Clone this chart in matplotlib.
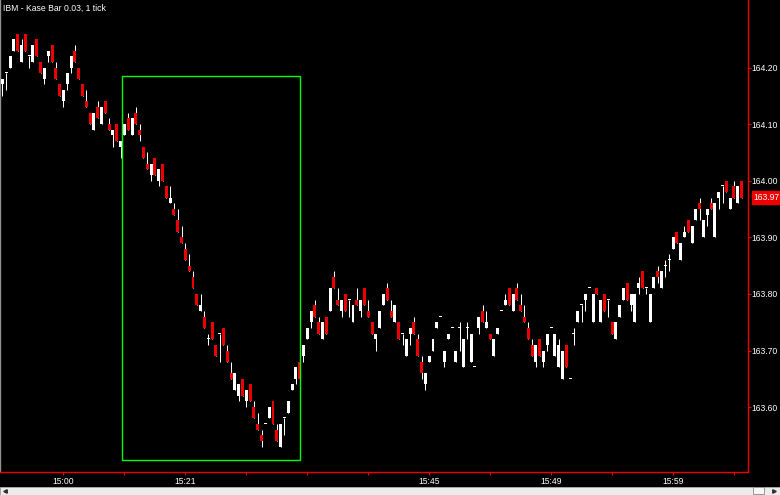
import matplotlib
matplotlib.use("Agg")
import matplotlib.pyplot as plt
import numpy as np
from matplotlib.patches import Rectangle
from matplotlib.lines import Line2D

# kase bar prices, one entry per bar (left to right)
opens = [
    164.17, 164.19, 164.20, 164.23, 164.26, 164.21, 164.26, 164.22, 164.21, 164.25,
    164.21, 164.18, 164.22, 164.24, 164.20, 164.17, 164.14, 164.17, 164.20, 164.23,
    164.20, 164.17, 164.14, 164.12, 164.09, 164.13, 164.10, 164.14, 164.10, 164.08,
    164.10, 164.06, 164.08, 164.11, 164.08, 164.12, 164.09, 164.06, 164.03, 164.01,
    164.04, 164.00, 164.03, 163.99, 163.96, 163.95, 163.93, 163.90, 163.88, 163.85,
    163.83, 163.80, 163.77, 163.76, 163.72, 163.75, 163.71, 163.73, 163.74, 163.70,
    163.66, 163.63, 163.62, 163.65, 163.61, 163.64, 163.60, 163.57, 163.55, 163.57,
    163.58, 163.61, 163.56, 163.53, 163.58, 163.59, 163.63, 163.65, 163.68, 163.69,
    163.72, 163.75, 163.78, 163.75, 163.72, 163.76, 163.77, 163.83, 163.79, 163.77,
    163.80, 163.79, 163.75, 163.79, 163.77, 163.81, 163.77, 163.75, 163.72, 163.74,
    163.78, 163.81, 163.77, 163.75, 163.75, 163.73, 163.69, 163.73, 163.75, 163.72,
    163.68, 163.64, 163.68, 163.70, 163.74, 163.76, 163.68, 163.72, 163.74, 163.68,
    163.74, 163.67, 163.74, 163.68, 163.67, 163.74, 163.77, 163.74, 163.73, 163.69,
    163.73, 163.77, 163.78, 163.81, 163.77, 163.81, 163.78, 163.76, 163.74, 163.71,
    163.68, 163.72, 163.68, 163.71, 163.74, 163.69, 163.67, 163.65, 163.71, 163.65,
    163.73, 163.75, 163.78, 163.79, 163.81, 163.75, 163.81, 163.75, 163.80, 163.79,
    163.75, 163.72, 163.76, 163.79, 163.82, 163.78, 163.75, 163.81, 163.84, 163.81,
    163.75, 163.81, 163.84, 163.81, 163.85, 163.86, 163.88, 163.91, 163.86, 163.90,
    163.93, 163.89, 163.93, 163.96, 163.90, 163.94, 163.96, 163.90, 163.97, 163.99,
    164.00, 163.95, 163.99, 163.96, 164.00,
]
highs = [
    164.18, 164.19, 164.22, 164.25, 164.26, 164.25, 164.26, 164.22, 164.24, 164.25,
    164.21, 164.20, 164.23, 164.24, 164.21, 164.17, 164.16, 164.19, 164.22, 164.24,
    164.20, 164.17, 164.16, 164.12, 164.12, 164.14, 164.13, 164.14, 164.11, 164.09,
    164.10, 164.07, 164.10, 164.12, 164.11, 164.13, 164.10, 164.06, 164.05, 164.03,
    164.04, 164.02, 164.03, 163.99, 163.99, 163.96, 163.95, 163.92, 163.89, 163.87,
    163.84, 163.80, 163.80, 163.77, 163.73, 163.75, 163.71, 163.73, 163.74, 163.71,
    163.68, 163.66, 163.64, 163.65, 163.63, 163.64, 163.61, 163.59, 163.56, 163.57,
    163.60, 163.61, 163.57, 163.57, 163.58, 163.61, 163.64, 163.67, 163.68, 163.71,
    163.74, 163.77, 163.79, 163.76, 163.75, 163.76, 163.81, 163.84, 163.81, 163.79,
    163.80, 163.79, 163.78, 163.81, 163.79, 163.81, 163.79, 163.75, 163.73, 163.77,
    163.80, 163.82, 163.79, 163.78, 163.75, 163.73, 163.72, 163.74, 163.76, 163.73,
    163.69, 163.66, 163.69, 163.72, 163.75, 163.76, 163.70, 163.73, 163.74, 163.70,
    163.75, 163.72, 163.75, 163.73, 163.67, 163.76, 163.78, 163.77, 163.73, 163.72,
    163.74, 163.77, 163.80, 163.81, 163.80, 163.82, 163.80, 163.78, 163.75, 163.72,
    163.71, 163.72, 163.70, 163.73, 163.74, 163.73, 163.72, 163.70, 163.71, 163.65,
    163.74, 163.77, 163.78, 163.80, 163.81, 163.80, 163.81, 163.79, 163.80, 163.79,
    163.75, 163.75, 163.78, 163.81, 163.82, 163.80, 163.80, 163.83, 163.84, 163.81,
    163.80, 163.83, 163.85, 163.84, 163.86, 163.87, 163.90, 163.91, 163.89, 163.92,
    163.93, 163.92, 163.95, 163.97, 163.93, 163.95, 163.97, 163.96, 163.98, 163.99,
    164.00, 163.97, 164.00, 163.99, 164.00,
]
lows = [
    164.15, 164.16, 164.20, 164.23, 164.23, 164.21, 164.23, 164.20, 164.21, 164.22,
    164.19, 164.17, 164.21, 164.21, 164.18, 164.15, 164.13, 164.16, 164.19, 164.21,
    164.18, 164.15, 164.13, 164.10, 164.09, 164.11, 164.10, 164.12, 164.09, 164.06,
    164.07, 164.04, 164.08, 164.09, 164.08, 164.10, 164.07, 164.04, 164.02, 164.00,
    164.01, 163.99, 164.00, 163.97, 163.96, 163.94, 163.91, 163.89, 163.86, 163.84,
    163.81, 163.78, 163.77, 163.74, 163.71, 163.72, 163.69, 163.68, 163.71, 163.68,
    163.65, 163.63, 163.61, 163.62, 163.60, 163.61, 163.58, 163.56, 163.53, 163.57,
    163.58, 163.57, 163.54, 163.53, 163.55, 163.59, 163.63, 163.64, 163.65, 163.68,
    163.72, 163.74, 163.76, 163.73, 163.72, 163.73, 163.77, 163.81, 163.78, 163.76,
    163.77, 163.76, 163.75, 163.78, 163.76, 163.78, 163.76, 163.73, 163.70, 163.74,
    163.78, 163.79, 163.76, 163.75, 163.72, 163.71, 163.69, 163.71, 163.73, 163.69,
    163.65, 163.63, 163.68, 163.70, 163.74, 163.76, 163.67, 163.72, 163.74, 163.68,
    163.70, 163.67, 163.72, 163.68, 163.67, 163.73, 163.75, 163.74, 163.72, 163.69,
    163.73, 163.77, 163.78, 163.78, 163.77, 163.79, 163.77, 163.75, 163.72, 163.69,
    163.67, 163.69, 163.67, 163.70, 163.74, 163.69, 163.67, 163.65, 163.67, 163.65,
    163.71, 163.75, 163.75, 163.77, 163.81, 163.75, 163.80, 163.75, 163.77, 163.76,
    163.73, 163.72, 163.76, 163.79, 163.79, 163.77, 163.75, 163.80, 163.81, 163.80,
    163.75, 163.81, 163.82, 163.81, 163.83, 163.84, 163.88, 163.89, 163.86, 163.90,
    163.91, 163.89, 163.93, 163.93, 163.90, 163.92, 163.95, 163.90, 163.95, 163.96,
    163.98, 163.95, 163.97, 163.96, 163.97,
]
closes = [
    164.18, 164.19, 164.22, 164.25, 164.23, 164.24, 164.23, 164.22, 164.24, 164.22,
    164.19, 164.20, 164.23, 164.21, 164.18, 164.15, 164.16, 164.19, 164.22, 164.21,
    164.18, 164.15, 164.13, 164.10, 164.12, 164.11, 164.13, 164.12, 164.09, 164.09,
    164.07, 164.07, 164.10, 164.09, 164.11, 164.10, 164.08, 164.04, 164.02, 164.03,
    164.01, 164.02, 164.00, 163.97, 163.97, 163.94, 163.91, 163.89, 163.86, 163.84,
    163.81, 163.78, 163.78, 163.74, 163.72, 163.72, 163.69, 163.73, 163.71, 163.68,
    163.65, 163.66, 163.64, 163.62, 163.63, 163.61, 163.58, 163.56, 163.54, 163.57,
    163.60, 163.57, 163.54, 163.57, 163.58, 163.61, 163.64, 163.67, 163.65, 163.71,
    163.74, 163.77, 163.76, 163.73, 163.75, 163.73, 163.81, 163.81, 163.78, 163.79,
    163.77, 163.79, 163.78, 163.78, 163.79, 163.78, 163.76, 163.73, 163.73, 163.77,
    163.80, 163.79, 163.76, 163.78, 163.72, 163.73, 163.72, 163.74, 163.73, 163.69,
    163.66, 163.66, 163.69, 163.72, 163.75, 163.76, 163.70, 163.73, 163.74, 163.70,
    163.74, 163.72, 163.74, 163.73, 163.67, 163.76, 163.75, 163.75, 163.72, 163.72,
    163.74, 163.77, 163.79, 163.78, 163.80, 163.79, 163.77, 163.75, 163.72, 163.69,
    163.71, 163.69, 163.70, 163.73, 163.74, 163.73, 163.71, 163.70, 163.67, 163.65,
    163.73, 163.77, 163.78, 163.80, 163.81, 163.80, 163.80, 163.79, 163.77, 163.79,
    163.73, 163.75, 163.78, 163.81, 163.79, 163.80, 163.80, 163.82, 163.81, 163.81,
    163.80, 163.83, 163.83, 163.84, 163.85, 163.86, 163.90, 163.89, 163.89, 163.91,
    163.91, 163.92, 163.95, 163.95, 163.93, 163.95, 163.95, 163.96, 163.98, 163.99,
    163.98, 163.97, 163.97, 163.99, 163.97,
]

# time axis: tick every 16 bars, only some of them labelled
tick_bars = [16, 32, 48, 64, 80, 96, 112, 128, 144, 160, 176, 192]
tick_labels = ["15:00", "", "15:21", "", "", "", "15:45", "", "15:49", "", "15:59", ""]
price_ticks = [163.60, 163.70, 163.80, 163.90, 164.00, 164.10, 164.20]
last_price = 163.97
title = "IBM - Kase Bar 0.03, 1 tick"

# highlighted region (green box)
box_x = (31.4, 78.1)
box_y = (163.507, 164.185)

RED = "#ee0000"

plt.rcParams["font.family"] = ["Liberation Sans", "DejaVu Sans"]

fig = plt.figure(figsize=(7.8, 4.95), dpi=100, facecolor="black")
ax = fig.add_axes([0, 22.7 / 495, 747.7 / 780, 472.3 / 495])
ax.set_facecolor("black")

x = np.arange(len(opens))
o = np.array(opens)
c = np.array(closes)
down = c < o
colors = np.where(down, RED, "white")

# wicks
ax.vlines(x, lows, highs, colors="white", linewidth=0.72, zorder=2)

# bodies (dojis get a 1 px dash)
bottoms = np.minimum(o, c)
heights = np.maximum(np.abs(c - o), 0.0018)
ax.bar(x, heights, bottom=bottoms, width=0.78, color=colors, linewidth=0, zorder=3)

# green highlight box
ax.add_patch(Rectangle((box_x[0], box_y[0]), box_x[1] - box_x[0], box_y[1] - box_y[0],
                       fill=False, edgecolor="#00ff00", linewidth=1.0, zorder=4))

ax.set_xlim(-0.656, 195.6)
ax.set_ylim(163.4848, 164.3193)

# axes look
ax.spines["top"].set_visible(False)
ax.spines["left"].set_color("#909090")
ax.spines["left"].set_linewidth(1.0)
ax.spines["right"].set_color(RED)
ax.spines["bottom"].set_color(RED)
ax.spines["right"].set_linewidth(1.0)
ax.spines["bottom"].set_linewidth(1.0)

ax.yaxis.tick_right()
ax.set_yticks(price_ticks)
ax.set_yticklabels([f"{p:.2f}" for p in price_ticks])
ax.tick_params(axis="y", colors=RED, labelcolor="white", labelsize=6.2,
               length=2, width=0.8, pad=1)

ax.set_xticks(tick_bars)
ax.set_xticklabels(tick_labels)
ax.tick_params(axis="x", colors=RED, labelcolor="white", labelsize=6.2,
               length=2, width=0.8, pad=1.5)

# current price marker
ax.annotate(f"{last_price:.2f}", xy=(1.0, last_price),
            xycoords=("axes fraction", "data"),
            xytext=(4.2, 0), textcoords="offset points",
            ha="left", va="center", color="white", fontsize=6.2,
            bbox=dict(boxstyle="square,pad=0.22", facecolor=RED, edgecolor=RED),
            annotation_clip=False, zorder=5)

# chart title
fig.text(0.004, 0.992, title, color="white", fontsize=6.2, ha="left", va="top")

# scrollbar strip at the bottom
fig.add_artist(Rectangle((0, 0), 1, 8.5 / 495, transform=fig.transFigure,
                         facecolor="#ececec", edgecolor="#b0b0b0", linewidth=0.6))
fig.add_artist(Rectangle((753 / 780, 0.8 / 495), 11 / 780, 7 / 495,
                         transform=fig.transFigure, facecolor="#f6f6f6",
                         edgecolor="#8a8a8a", linewidth=0.6))
fig.add_artist(Line2D([5 / 780], [4.2 / 495], transform=fig.transFigure,
                      marker="<", markersize=2.5, color="#303030", linestyle="none"))
fig.add_artist(Line2D([774 / 780], [4.2 / 495], transform=fig.transFigure,
                      marker=">", markersize=2.5, color="#303030", linestyle="none"))

fig.savefig("out.png", dpi=100, facecolor="black")
